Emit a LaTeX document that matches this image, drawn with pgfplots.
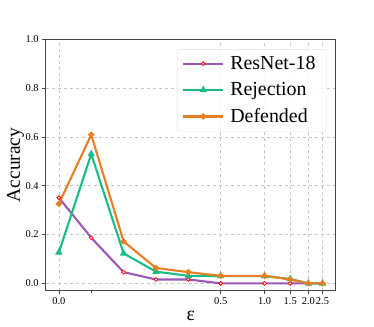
\documentclass[border=0pt]{standalone}
\usepackage{pgfplots}
\pgfplotsset{compat=1.18}
\usepackage{fontspec}
\setmainfont{Liberation Serif}
\definecolor{cpurple}{HTML}{9B59B6}
\definecolor{cgreen}{HTML}{1ABC86}
\definecolor{corange}{HTML}{E67E22}
\definecolor{cspine}{HTML}{444444}
\begin{document}
\begin{tikzpicture}
\useasboundingbox (0,0) rectangle (374bp,327bp);
\begin{axis}[
  at={(45.7bp,36.3bp)}, anchor=south west,
  scale only axis, width=290bp, height=251.4bp,
  xmin=-0.0905, xmax=1.9006, ymin=-0.03, ymax=1.0,
  xtick={0,1.1111,1.4121,1.5882,1.7132,1.8101},
  xticklabels={0.0,0.5,1.0,1.5,2.0,2.5},
  minor xtick={0.2222},
  ytick={0,0.2,0.4,0.6,0.8,1.0},
  yticklabel style={/pgf/number format/.cd,fixed,fixed zerofill,precision=1},
  /pgf/number format/assume math mode=true,
  ticklabel style={font=\fontsize{10.5}{12}\selectfont, text=black},
  tick align=outside, tick pos=left,
  major tick length=3.5bp, minor tick length=2bp,
  every tick/.style={cspine, line width=0.6bp},
  axis line style={cspine, line width=0.8bp},
  grid=major,
  major grid style={dashed, gray!45, line width=0.5bp},
  xlabel={ε}, ylabel={Accuracy},
  xlabel style={font=\fontsize{20}{22}\selectfont, at={(axis description cs:0.5,0)}, anchor=north, yshift=-17bp},
  ylabel style={font=\fontsize{19.5}{22}\selectfont, at={(axis description cs:0,0.5)}, anchor=south, yshift=18bp},
  legend style={at={(rel axis cs:0.969,0.961)}, anchor=north east,
    draw=gray!25, rounded corners=3bp, fill=white, fill opacity=0.85, text opacity=1,
    font=\fontsize{20}{24}\selectfont, row sep=7.5bp, inner xsep=5bp, inner ysep=5bp,
    nodes={inner xsep=6bp}},
  legend cell align=left,
  legend image code/.code={
    \draw[#1, mark=none] (0bp,0bp) -- (40bp,0bp);
    \draw[#1, only marks] plot coordinates {(20bp,0bp)};
  },
]
\addplot[cpurple, line width=2.1bp, mark=*, mark size=1.9bp, mark options={fill=white, draw=red, line width=0.8bp}]
  coordinates {(0,0.351) (0.2222,0.187) (0.4444,0.046) (0.6667,0.016) (0.8889,0.016) (1.1111,0.0) (1.4121,0.0) (1.5882,0.0) (1.7132,0.0) (1.8101,0.0)};
\addlegendentry{ResNet-18}
\addplot[cgreen, line width=2.1bp, mark=triangle*, mark size=2.2bp, mark options={solid}]
  coordinates {(0,0.127) (0.2222,0.530) (0.4444,0.123) (0.6667,0.048) (0.8889,0.031) (1.1111,0.030) (1.4121,0.030) (1.5882,0.018) (1.7132,0.0) (1.8101,0.0)};
\addlegendentry{Rejection}
\addplot[corange, line width=2.1bp, mark=*, mark size=1.9bp]
  coordinates {(0,0.326) (0.2222,0.609) (0.4444,0.172) (0.6667,0.063) (0.8889,0.046) (1.1111,0.031) (1.4121,0.031) (1.5882,0.016) (1.7132,0.0) (1.8101,0.0)};
\addlegendentry{Defended}
\end{axis}
\end{tikzpicture}
\end{document}
